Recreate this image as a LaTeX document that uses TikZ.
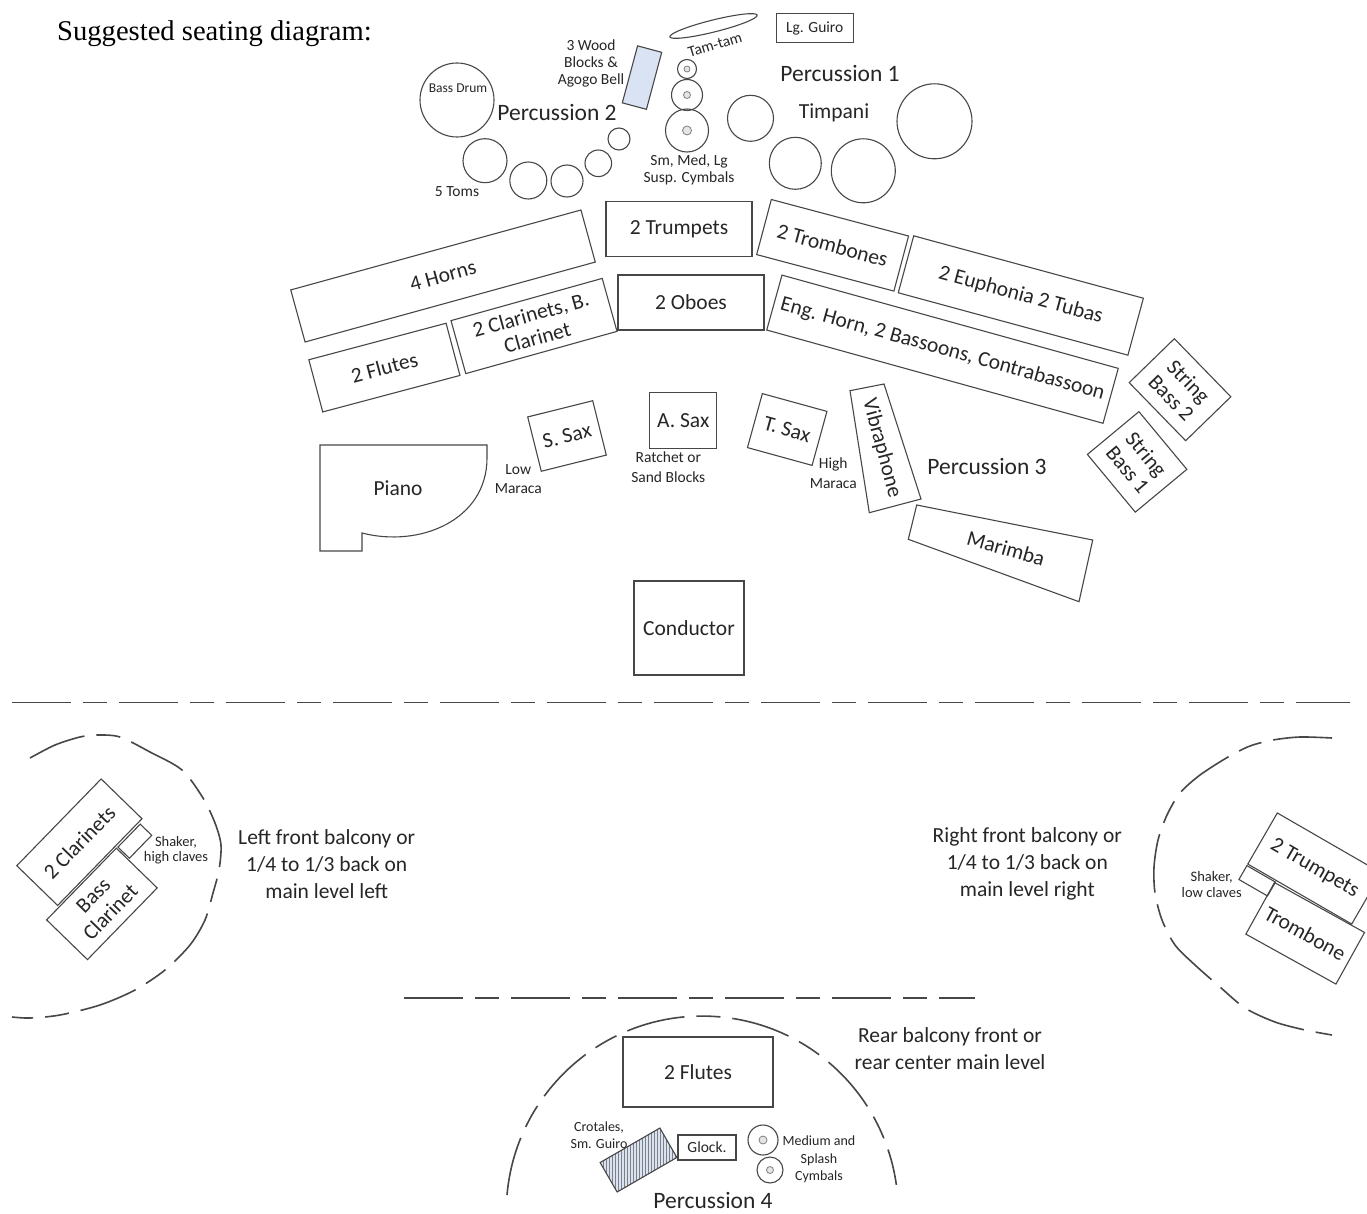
\documentclass[tikz,border=0pt]{standalone}
\usepackage{fontspec}
\setmainfont{Carlito}
\newfontfamily\titlefont{Liberation Serif}
\usetikzlibrary{patterns}
\definecolor{linegray}{HTML}{474747}
\definecolor{txtgray}{HTML}{262626}
\definecolor{paleblue}{HTML}{DAE3F3}
\begin{document}
\begin{tikzpicture}[x=1pt, y=-1pt,
    seat/.style={draw=linegray, line width=1.1pt, inner sep=0pt, align=center, text=txtgray, font=\fontsize{21.5}{24}\selectfont},
    words/.style={inner sep=0pt, align=center, text=txtgray, font=\fontsize{21.5}{27}\selectfont},
    perc/.style={inner sep=0pt, text=txtgray, font=\fontsize{23.5}{26}\selectfont},
    memo/.style={inner sep=0pt, align=center, text=txtgray, font=\fontsize{15.5}{17}\selectfont},
    minimemo/.style={inner sep=0pt, align=center, text=txtgray, font=\fontsize{14}{17}\selectfont},
    drum/.style={draw=linegray, line width=1.1pt},
    hub/.style={draw=gray, fill=gray!20, line width=0.8pt},
    balcony/.style={draw=linegray, line width=1.6pt, dash pattern=on 59pt off 12pt on 24pt off 12pt}]
    \path[use as bounding box, fill=white] (0,0) rectangle (1367,1214);
    \node[anchor=base west, inner sep=0pt, font=\titlefont\fontsize{28.6}{31}\selectfont] (title) at (57,41) {Suggested seating diagram:};

    \draw[drum] (457,100) circle[radius=37pt];
    \node[minimemo, font=\fontsize{13.5}{16}\selectfont] (bassdrum) at (458,88) {Bass Drum};
    \foreach \x/\y/\r in {485/160.7/22, 528.3/180.5/18.5, 567/181/16, 598.3/163.3/13.3, 619/139/11}
        \draw[drum] (\x,\y) circle[radius=\r pt];
    \node[memo] (toms) at (457,192) {5 Toms};
    \node[perc] (perc2) at (557,113) {Percussion 2};
    \node[memo, font=\fontsize{15.5}{16.7}\selectfont] (woodtext) at (591,63.3) {3 Wood\\Blocks \&\\Agogo Bell};
    \node[draw=linegray, line width=1.1pt, fill=paleblue, rotate=-15, minimum width=25pt, minimum height=59pt, inner sep=0pt] (blocks) at (642,77.6) {};
    \foreach \y/\r/\h in {69/9.5/3, 95/15.5/3.5, 130.5/21.5/4.5} {
        \draw[drum] (687,\y) circle[radius=\r pt];
        \draw[hub] (687,\y) circle[radius=\h pt];
    }
    \node[memo, font=\fontsize{15.5}{17.3}\selectfont] (susp) at (689,169.7) {Sm, Med, Lg\\Susp. Cymbals};
    \draw[drum, rotate around={14:(713.5,26)}] (713.5,26) ellipse[x radius=45pt, y radius=6pt];
    \node[memo, rotate=17] (tamtam) at (715,45) {Tam-tam};
    \node[seat, font=\fontsize{15.5}{17}\selectfont, minimum width=77pt, minimum height=29pt] (guiro) at (814.7,28.3) {Lg. Guiro};
    \node[perc] (perc1) at (840,74) {Percussion 1};
    \node[words] (timpani) at (834,113) {Timpani};
    \foreach \x/\y/\r in {750.5/118.3/23, 795.3/163.3/26, 863.3/170.8/32, 934.5/121.3/37.5}
        \draw[drum] (\x,\y) circle[radius=\r pt];

    \node[seat, rotate=15.4, minimum width=301pt, minimum height=54pt] (horns) at (443,276) {4 Horns};
    \node[seat, minimum width=146pt, minimum height=55pt] (trumpets) at (679,229) {2 Trumpets};
    \node[seat, minimum width=146pt, minimum height=55pt] (oboes) at (691,302.5) {2 Oboes};
    \node[seat, rotate=15.6, minimum width=157pt, minimum height=55pt] (clarinets) at (534,326) {2 Clarinets, B.\\Clarinet};
    \node[seat, rotate=14.9, minimum width=142pt, minimum height=54pt] (flutes) at (384.4,367.6) {2 Flutes};
    \node[seat, rotate=-14.9, minimum width=142pt, minimum height=57pt] (trombones) at (832.6,245.3) {2 Trombones};
    \node[seat, rotate=-15.2, minimum width=238pt, minimum height=59pt] (lowbrass) at (1020.8,295.5) {2 Euphonia 2 Tubas};
    \node[seat, rotate=-15.5, minimum width=349pt, minimum height=57pt] (reeds) at (942.5,349.2) {Eng. Horn, 2 Bassoons, Contrabassoon};
    \node[seat, rotate=-45.8, minimum width=81pt, minimum height=63pt] (bass2) at (1180,389.7) {String\\Bass 2};
    \node[seat, rotate=-50.3, minimum width=75pt, minimum height=67pt] (bass1) at (1137.1,461.9) {String\\Bass 1};

    \draw[drum] (320,445) -- (487,445) -- (487,458) .. controls (487,520) and (420,548) .. (362,533) -- (362,551) -- (320,551) -- cycle;
    \node[words] (piano) at (398,488) {Piano};
    \node[seat, rotate=14, minimum width=67pt, minimum height=56pt] (ssax) at (567,436) {S. Sax};
    \node[seat, minimum width=67pt, minimum height=56pt] (asax) at (683.3,420.5) {A. Sax};
    \node[seat, rotate=-15.4, minimum width=67pt, minimum height=56pt] (tsax) at (787.2,429.5) {T. Sax};
    \node[memo, font=\fontsize{15.5}{19.7}\selectfont] (lowmaraca) at (518.3,479.2) {Low\\Maraca};
    \node[memo, font=\fontsize{15.5}{19.4}\selectfont] (ratchet) at (668.3,467) {Ratchet or\\Sand Blocks};
    \node[memo, font=\fontsize{15.5}{20}\selectfont] (highmaraca) at (833.3,473.3) {High\\Maraca};
    \draw[drum] (850,390.7) -- (884,384) -- (921,499) -- (869.3,512.7) -- cycle;
    \node[words, rotate=-75] (vibes) at (881.7,448.3) {Vibraphone};
    \node[perc] (perc3) at (987,467) {Percussion 3};
    \draw[drum] (916.7,505) -- (1092.7,540) -- (1079,601.7) -- (908.3,539.3) -- cycle;
    \node[words, rotate=-16] (marimba) at (1006,548.3) {Marimba};
    \node[seat, minimum width=110pt, minimum height=94pt] (conductor) at (689,628) {Conductor};

    \draw[balcony] (12,702.5) -- (1350,702.5);
    \draw[balcony] (404,998) -- (975,998);

    \draw[balcony] plot[smooth] coordinates {(30,758) (55,745) (80,737) (97,735) (120,737) (150,752) (182,770) (203,798) (215,823) (221,845) (219,870) (213,893) (205,920) (190,945) (165,970) (135,990) (100,1005) (60,1015) (30,1018) (12,1017)};
    \node[seat, rotate=45.8, minimum width=121pt, minimum height=57pt] (clar2) at (79.4,842.2) {2 Clarinets};
    \node[seat, rotate=45.8, minimum width=100pt, minimum height=57pt] (bassclar) at (101.9,903.9) {Bass\\Clarinet};
    \node[draw=linegray, line width=1.1pt, rotate=45.8, minimum width=32pt, minimum height=16pt, inner sep=0pt] (shakerl) at (134.8,841.2) {};
    \node[memo, font=\fontsize{14.5}{15.5}\selectfont] (shakerltext) at (176,850) {Shaker,\\high claves};
    \node[words] (leftnote) at (326.7,863.7) {Left front balcony or\\1/4 to 1/3 back on\\main level left};

    \draw[balcony] plot[smooth] coordinates {(1332,738) (1300,737) (1273,740) (1250,746) (1228,757) (1200,775) (1180,793) (1167,815) (1158,840) (1154,867) (1155,893) (1162,920) (1175,945) (1195,965) (1220,987) (1245,1008) (1275,1022) (1305,1030) (1332,1035)};
    \node[seat, rotate=-30, minimum width=120pt, minimum height=59pt] (trp2) at (1314.5,868.5) {2 Trumpets};
    \node[seat, rotate=-29, minimum width=103pt, minimum height=59pt] (trb) at (1305.2,933.3) {Trombone};
    \node[draw=linegray, line width=1.1pt, rotate=-30, minimum width=33pt, minimum height=16pt, inner sep=0pt] (shakerr) at (1257.2,880.8) {};
    \node[memo, font=\fontsize{14.5}{16.5}\selectfont] (shakerrtext) at (1211.7,884.3) {Shaker,\\low claves};
    \node[words] (rightnote) at (1027.3,863.7) {Right front balcony or\\1/4 to 1/3 back on\\main level right};

    \draw[balcony] (507,1195) arc[start angle=175, end angle=8, radius=196pt];
    \node[words] (rearnote) at (950,1048.5) {Rear balcony front or\\rear center main level};
    \node[seat, minimum width=150pt, minimum height=70pt] (flutes4) at (698,1072) {2 Flutes};
    \node[draw=linegray, line width=1.1pt, preaction={fill=paleblue}, pattern=vertical lines, pattern color=gray, rotate=30, minimum width=69pt, minimum height=34pt, inner sep=0pt] (crotales) at (638.5,1160) {};
    \node[minimemo] (crotalestext) at (599,1135.5) {Crotales,\\Sm. Guiro};
    \node[seat, font=\fontsize{15.5}{17}\selectfont, minimum width=58pt, minimum height=25pt] (glock) at (707,1147.5) {Glock.};
    \foreach \x/\y/\r/\h in {763/1140/15/4, 770/1170/13/3.5} {
        \draw[drum] (\x,\y) circle[radius=\r pt];
        \draw[hub] (\x,\y) circle[radius=\h pt];
    }
    \node[minimemo, font=\fontsize{14}{17.5}\selectfont] (cymbals4) at (819,1159.5) {Medium and\\Splash\\Cymbals};
    \node[perc] (perc4) at (713,1200.5) {Percussion 4};
\end{tikzpicture}
\end{document}
